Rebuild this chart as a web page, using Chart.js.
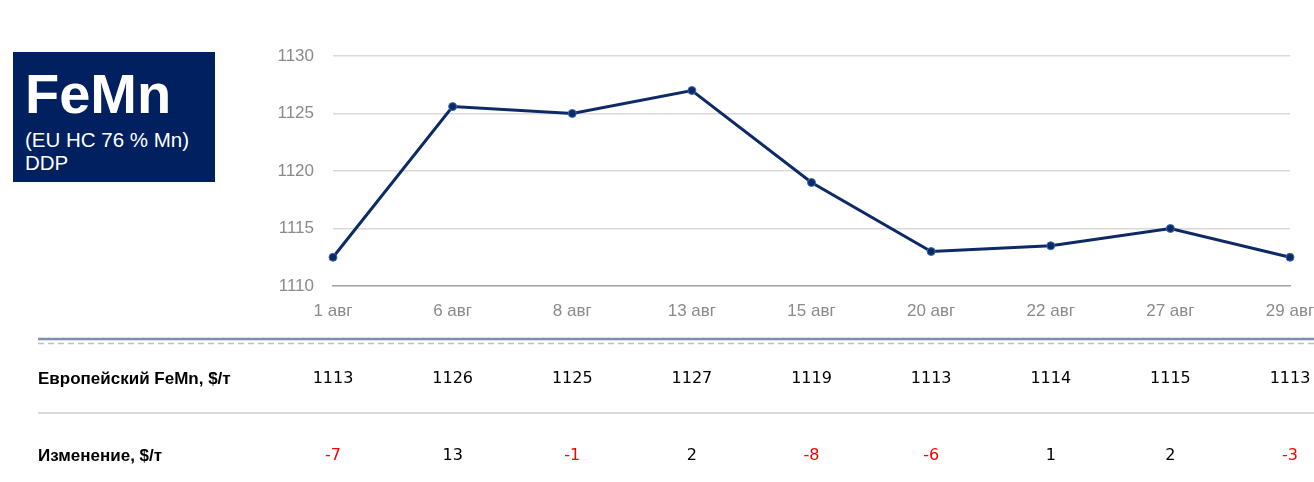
<!DOCTYPE html>
<html>
<head>
<meta charset="utf-8">
<script src="https://cdn.jsdelivr.net/npm/chart.js@4/dist/chart.umd.min.js"></script>
<style>
  body { margin: 0; background: #fff; }
  #wrap { position: relative; width: 1314px; height: 482px; }
  #badge {
    position: absolute; left: 13px; top: 52px; width: 202px; height: 130px;
    background: #002060; color: #fff; font-family: "Liberation Sans", Arial, sans-serif;
    box-sizing: border-box; padding-left: 12px;
  }
  #badge .big { font-size: 56px; font-weight: bold; line-height: 56px; margin-top: 14px; }
  #badge .sub { font-size: 20.5px; line-height: 23px; margin-top: 6px; }
</style>
</head>
<body>
<div id="wrap">
  <canvas id="lineChart" width="1314" height="482"></canvas>
  <div id="badge">
    <div class="big">FeMn</div>
    <div class="sub">(EU HC 76 % Mn)<br>DDP</div>
  </div>
</div>
<script>
const labels = ["1 авг", "6 авг", "8 авг", "13 авг", "15 авг", "20 авг", "22 авг", "27 авг", "29 авг"];
const prices = [1112.5, 1125.6, 1125.0, 1127.0, 1119.0, 1113.0, 1113.5, 1115.0, 1112.5];
const tablePrices = [1113, 1126, 1125, 1127, 1119, 1113, 1114, 1115, 1113];
const tableChanges = [-7, 13, -1, 2, -8, -6, 1, 2, -3];
const rowLabels = ["Европейский FeMn, $/т", "Изменение, $/т"];

const sans = '"Liberation Sans", Arial, sans-serif';

//---table under the chart, columns taken from the x scale---
const tablePlugin = {
  id: 'priceTable',
  afterDraw(chart) {
    const ctx = chart.ctx;
    const x = chart.scales.x;
    ctx.save();
    // double rule
    ctx.strokeStyle = '#7d8db4';
    ctx.lineWidth = 2.5;
    ctx.beginPath(); ctx.moveTo(38, 339); ctx.lineTo(1314, 339); ctx.stroke();
    ctx.strokeStyle = '#c0c0c0';
    ctx.lineWidth = 1.5;
    ctx.setLineDash([6, 4]);
    ctx.beginPath(); ctx.moveTo(38, 343.5); ctx.lineTo(1314, 343.5); ctx.stroke();
    ctx.setLineDash([]);
    // row separator
    ctx.strokeStyle = '#d9d9d9';
    ctx.lineWidth = 2;
    ctx.beginPath(); ctx.moveTo(38, 413); ctx.lineTo(1314, 413); ctx.stroke();

    ctx.textBaseline = 'middle';
    ctx.fillStyle = '#000';
    ctx.textAlign = 'left';
    ctx.font = 'bold 17px ' + sans;
    ctx.fillText(rowLabels[0], 38, 379);
    ctx.fillText(rowLabels[1], 38, 456);

    ctx.textAlign = 'center';
    ctx.font = '16px "DejaVu Sans", Verdana, sans-serif';
    tablePrices.forEach((v, i) => {
      ctx.fillStyle = '#000';
      ctx.fillText(String(v), x.getPixelForValue(i), 379);
    });
    tableChanges.forEach((v, i) => {
      ctx.fillStyle = v < 0 ? '#ff0000' : '#000';
      ctx.fillText(String(v), x.getPixelForValue(i), 456);
    });
    ctx.restore();
  }
};

const CHART = document.getElementById('lineChart');
let lineChart = new Chart(CHART, {
  type: 'line',
  data: {
    labels: labels,
    datasets: [
      {
        label: "FeMn",
        data: prices,
        borderColor: '#0d2a66',
        borderWidth: 3,
        backgroundColor: '#0d2a66',
        pointRadius: 4,
        pointBackgroundColor: '#0d2a66',
        pointBorderColor: '#3b6cb3',
        pointBorderWidth: 1,
        tension: 0
      }
    ]
  },
  options: {
    responsive: false,
    animation: false,
    layout: { padding: { top: 56, right: 24, left: 0, bottom: 0 } },
    plugins: { legend: { display: false }, tooltip: { enabled: false } },
    scales: {
      x: {
        offset: false,
        afterFit: (scale) => { scale.height = 196; scale.paddingLeft = 0; scale.paddingRight = 0; },
        grid: { display: false, drawTicks: false },
        border: { display: true, color: '#a6a6a6', width: 1.5 },
        ticks: { color: '#8a8a8a', padding: 15, font: { family: sans, size: 17 }, maxRotation: 0, autoSkip: false }
      },
      y: {
        min: 1110,
        max: 1130,
        afterFit: (scale) => { scale.width = 333; },
        grid: { color: '#d9d9d9', lineWidth: 1.5, drawTicks: false },
        border: { display: false },
        ticks: {
          stepSize: 5, color: '#8a8a8a', padding: 19, font: { family: sans, size: 17 },
          callback: (v) => String(v)
        }
      }
    }
  },
  plugins: [tablePlugin]
});
</script>
</body>
</html>
